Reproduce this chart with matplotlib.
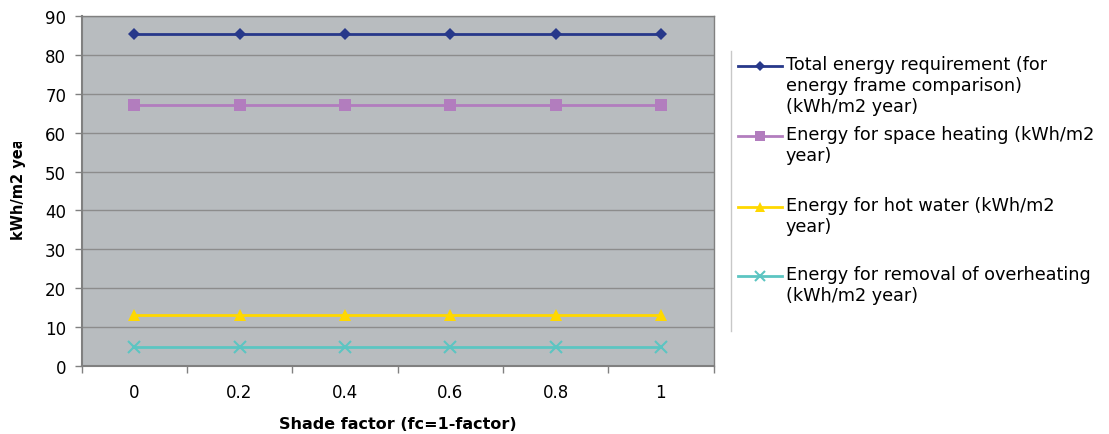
import matplotlib
matplotlib.use("Agg")
import matplotlib.pyplot as plt
from matplotlib.lines import Line2D
from matplotlib.transforms import Bbox

plt.rcParams['font.family'] = ['DejaVu Sans']

categories = ["0", "0.2", "0.4", "0.6", "0.8", "1"]
total = [85.5, 85.5, 85.5, 85.5, 85.5, 85.5]
space_heating = [67.1, 67.1, 67.1, 67.1, 67.1, 67.1]
hot_water = [13.2, 13.2, 13.2, 13.2, 13.2, 13.2]
overheating = [5.0, 5.0, 5.0, 5.0, 5.0, 5.0]

labels = [
    "Total energy requirement (for\nenergy frame comparison)\n(kWh/m2 year)",
    "Energy for space heating (kWh/m2\nyear)",
    "Energy for hot water (kWh/m2\nyear)",
    "Energy for removal of overheating\n(kWh/m2 year)",
]
series = [total, space_heating, hot_water, overheating]
colors = ["#27388A", "#B27DBE", "#FFD800", "#5CC5C2"]
markers = ["D", "s", "^", "x"]
msizes = [6, 8, 9, 8]

W, H = 1109, 435
fig = plt.figure(figsize=(W / 100, H / 100), dpi=100)
ax = fig.add_axes([81.5 / W, 1 - 367 / H, (713.5 - 81.5) / W, (367 - 17) / H])
ax.set_facecolor("#B8BCBF")

x = list(range(len(categories)))
for s, c, m, ms in zip(series, colors, markers, msizes):
    kw = dict(markeredgewidth=1.5) if m == "x" else dict(markeredgewidth=0)
    ax.plot(x, s, color=c, marker=m, markersize=ms, linewidth=2, zorder=3, **kw)

ax.set_xlim(-0.5, len(categories) - 0.5)
ax.set_ylim(0, 90)
ax.set_yticks(range(0, 91, 10))
ax.set_xticks(x)
ax.set_xticklabels(categories)
ax.set_xticks([i - 0.5 for i in range(len(categories) + 1)], minor=True)
ax.tick_params(axis='x', which='major', length=0, pad=12, labelsize=12)
ax.tick_params(axis='x', which='minor', length=5, color="#808080", width=1)
ax.tick_params(axis='y', length=5, color="#808080", width=1, labelsize=12, pad=6)
ax.yaxis.grid(True, color="#8C8C8C", linewidth=1)
ax.set_axisbelow(True)
for sp in ax.spines.values():
    sp.set_color("#808080")
    sp.set_linewidth(1.5)
ax.spines['top'].set_linewidth(1)
ax.spines['right'].set_linewidth(1)

ax.set_xlabel("Shade factor (fc=1-factor)", fontsize=11.5, fontweight='bold', labelpad=11)

# y label, clipped at top as in the original
yl = fig.text(18.5 / W, 1 - 186 / H, "kWh/m2 year", rotation=90, fontsize=10.5,
              fontweight='bold', ha='center', va='center')
yl.set_clip_on(True)
yl.set_clip_box(Bbox.from_extents(0, 0, 60, H - 143))

# legend
fig.add_artist(Line2D([731 / W, 731 / W], [1 - 52 / H, 1 - 332 / H], color="#C8C8C8",
                      linewidth=1, transform=fig.transFigure))
ys = [67, 137, 208, 277]
for yy, lab, c, m, ms in zip(ys, labels, colors, markers, msizes):
    fy = 1 - yy / H
    fig.add_artist(Line2D([738 / W, 782 / W], [fy, fy], color=c, linewidth=2,
                          transform=fig.transFigure))
    kw = dict(markeredgewidth=1.5) if m == "x" else dict(markeredgewidth=0)
    fig.add_artist(Line2D([760 / W], [fy], color=c, marker=m, markersize=ms * 0.85,
                          linestyle='none', transform=fig.transFigure, **kw))
    fig.text(786 / W, fy + 10.5 / H, lab, fontsize=12.7, ha='left', va='top', linespacing=1.2)

fig.savefig("out.png", dpi=100, facecolor="white")
